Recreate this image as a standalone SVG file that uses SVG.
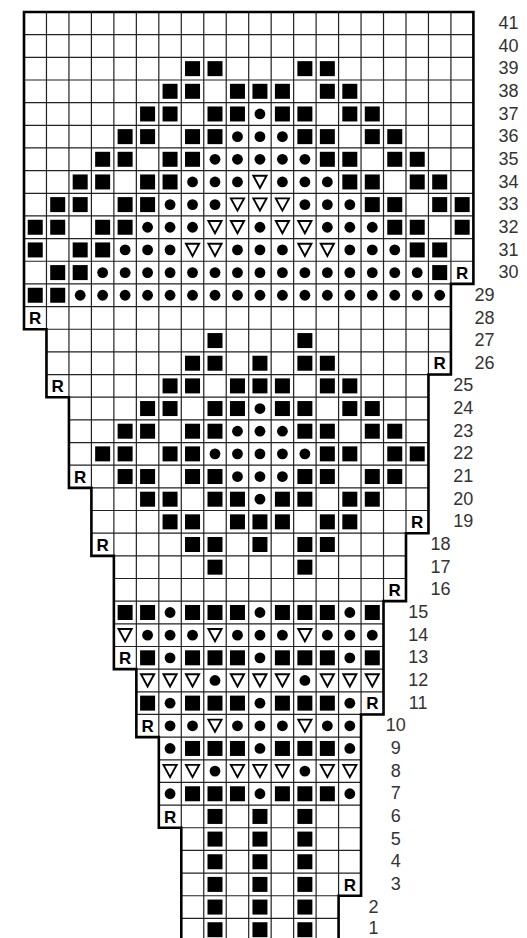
<svg xmlns="http://www.w3.org/2000/svg" xmlns:xlink="http://www.w3.org/1999/xlink" width="527" height="938" viewBox="0 0 527 938">
<style>
.grid{stroke:#222;stroke-width:1.2;fill:none}
.outline{stroke:#000;stroke-width:2.6;fill:none;stroke-linejoin:miter;stroke-linecap:square}
.lbl{font-family:"Liberation Sans",Arial,sans-serif;font-size:18px;fill:#333;text-anchor:middle}
.rr{font-family:"Liberation Sans",Arial,sans-serif;font-size:17px;font-weight:bold;fill:#000;text-anchor:middle}
</style>
<defs>
<rect id="s" x="-7.5" y="-7.5" width="15" height="15" fill="#000"/>
<circle id="d" r="5.4" fill="#000"/>
<path id="t" d="M-6.6,-6.2 H6.6 L0,6 Z" fill="#fff" stroke="#000" stroke-width="1.9" stroke-linejoin="miter"/>
<text id="R" class="rr" y="6.2">R</text>
</defs>
<rect x="0" y="0" width="527" height="938" fill="#fff"/>
<g id="grid" class="grid">
<path d="M46.47,12V397.22M68.94,12V487.86M91.41,12V555.84M113.88,12V669.14M136.35,12V737.12M158.82,12V827.76M181.29,12V945M203.76,12V945M226.23,12V945M248.7,12V945M271.17,12V945M293.64,12V945M316.11,12V945M338.58,12V945M361.05,12V895.74M383.52,12V714.46M405.99,12V601.16M428.46,12V533.18M450.93,12V374.56"/>
<path d="M24,34.66H473.4M24,57.32H473.4M24,79.98H473.4M24,102.64H473.4M24,125.3H473.4M24,147.96H473.4M24,170.62H473.4M24,193.28H473.4M24,215.94H473.4M24,238.6H473.4M24,261.26H473.4M24,283.92H473.4M24,306.58H450.93M24,329.24H450.93M46.47,351.9H450.93M46.47,374.56H450.93M46.47,397.22H428.46M68.94,419.88H428.46M68.94,442.54H428.46M68.94,465.2H428.46M68.94,487.86H428.46M91.41,510.52H428.46M91.41,533.18H428.46M91.41,555.84H405.99M113.88,578.5H405.99M113.88,601.16H405.99M113.88,623.82H383.52M113.88,646.48H383.52M113.88,669.14H383.52M136.35,691.8H383.52M136.35,714.46H383.52M136.35,737.12H361.05M158.82,759.78H361.05M158.82,782.44H361.05M158.82,805.1H361.05M158.82,827.76H361.05M181.29,850.42H361.05M181.29,873.08H361.05M181.29,895.74H361.05M181.29,918.4H338.58"/>
</g>
<g id="connectors">
<path class="outline" d="M181.29,945V827.76H158.82V737.12H136.35V669.14H113.88V555.84H91.41V487.86H68.94V397.22H46.47V329.24H24V12H473.4V283.92H450.93V374.56H428.46V533.18H405.99V601.16H383.52V714.46H361.05V895.74H338.58V945"/>
</g>
<g id="row41" transform="translate(0,23.33)"><text class="lbl" x="508.6" y="5.6">41</text></g>
<g id="row40" transform="translate(0,45.99)"><text class="lbl" x="508.6" y="5.6">40</text></g>
<g id="row39" transform="translate(0,68.65)"><use href="#s" x="192.53"/><use href="#s" x="215"/><use href="#s" x="304.88"/><use href="#s" x="327.35"/><text class="lbl" x="508.6" y="5.6">39</text></g>
<g id="row38" transform="translate(0,91.31)"><use href="#s" x="170.06"/><use href="#s" x="192.53"/><use href="#s" x="237.47"/><use href="#s" x="259.94"/><use href="#s" x="282.41"/><use href="#s" x="327.35"/><use href="#s" x="349.82"/><text class="lbl" x="508.6" y="5.6">38</text></g>
<g id="row37" transform="translate(0,113.97)"><use href="#s" x="147.59"/><use href="#s" x="170.06"/><use href="#s" x="215"/><use href="#s" x="237.47"/><use href="#d" x="259.94"/><use href="#s" x="282.41"/><use href="#s" x="304.88"/><use href="#s" x="349.82"/><use href="#s" x="372.29"/><text class="lbl" x="508.6" y="5.6">37</text></g>
<g id="row36" transform="translate(0,136.63)"><use href="#s" x="125.12"/><use href="#s" x="147.59"/><use href="#s" x="192.53"/><use href="#s" x="215"/><use href="#d" x="237.47"/><use href="#d" x="259.94"/><use href="#d" x="282.41"/><use href="#s" x="304.88"/><use href="#s" x="327.35"/><use href="#s" x="372.29"/><use href="#s" x="394.76"/><text class="lbl" x="508.6" y="5.6">36</text></g>
<g id="row35" transform="translate(0,159.29)"><use href="#s" x="102.65"/><use href="#s" x="125.12"/><use href="#s" x="170.06"/><use href="#s" x="192.53"/><use href="#d" x="215"/><use href="#d" x="237.47"/><use href="#d" x="259.94"/><use href="#d" x="282.41"/><use href="#d" x="304.88"/><use href="#s" x="327.35"/><use href="#s" x="349.82"/><use href="#s" x="394.76"/><use href="#s" x="417.23"/><text class="lbl" x="508.6" y="5.6">35</text></g>
<g id="row34" transform="translate(0,181.95)"><use href="#s" x="80.18"/><use href="#s" x="102.65"/><use href="#s" x="147.59"/><use href="#s" x="170.06"/><use href="#d" x="192.53"/><use href="#d" x="215"/><use href="#d" x="237.47"/><use href="#t" x="259.94"/><use href="#d" x="282.41"/><use href="#d" x="304.88"/><use href="#d" x="327.35"/><use href="#s" x="349.82"/><use href="#s" x="372.29"/><use href="#s" x="417.23"/><use href="#s" x="439.7"/><text class="lbl" x="508.6" y="5.6">34</text></g>
<g id="row33" transform="translate(0,204.61)"><use href="#s" x="57.71"/><use href="#s" x="80.18"/><use href="#s" x="125.12"/><use href="#s" x="147.59"/><use href="#d" x="170.06"/><use href="#d" x="192.53"/><use href="#d" x="215"/><use href="#t" x="237.47"/><use href="#t" x="259.94"/><use href="#t" x="282.41"/><use href="#d" x="304.88"/><use href="#d" x="327.35"/><use href="#d" x="349.82"/><use href="#s" x="372.29"/><use href="#s" x="394.76"/><use href="#s" x="439.7"/><use href="#s" x="462.17"/><text class="lbl" x="508.6" y="5.6">33</text></g>
<g id="row32" transform="translate(0,227.27)"><use href="#s" x="35.24"/><use href="#s" x="57.71"/><use href="#s" x="102.65"/><use href="#s" x="125.12"/><use href="#d" x="147.59"/><use href="#d" x="170.06"/><use href="#d" x="192.53"/><use href="#t" x="215"/><use href="#t" x="237.47"/><use href="#d" x="259.94"/><use href="#t" x="282.41"/><use href="#t" x="304.88"/><use href="#d" x="327.35"/><use href="#d" x="349.82"/><use href="#d" x="372.29"/><use href="#s" x="394.76"/><use href="#s" x="417.23"/><use href="#s" x="462.17"/><text class="lbl" x="508.6" y="5.6">32</text></g>
<g id="row31" transform="translate(0,249.93)"><use href="#s" x="35.24"/><use href="#s" x="80.18"/><use href="#s" x="102.65"/><use href="#d" x="125.12"/><use href="#d" x="147.59"/><use href="#d" x="170.06"/><use href="#t" x="192.53"/><use href="#t" x="215"/><use href="#d" x="237.47"/><use href="#d" x="259.94"/><use href="#d" x="282.41"/><use href="#t" x="304.88"/><use href="#t" x="327.35"/><use href="#d" x="349.82"/><use href="#d" x="372.29"/><use href="#d" x="394.76"/><use href="#s" x="417.23"/><use href="#s" x="439.7"/><text class="lbl" x="508.6" y="5.6">31</text></g>
<g id="row30" transform="translate(0,272.59)"><use href="#s" x="57.71"/><use href="#s" x="80.18"/><use href="#d" x="102.65"/><use href="#d" x="125.12"/><use href="#d" x="147.59"/><use href="#d" x="170.06"/><use href="#d" x="192.53"/><use href="#d" x="215"/><use href="#d" x="237.47"/><use href="#d" x="259.94"/><use href="#d" x="282.41"/><use href="#d" x="304.88"/><use href="#d" x="327.35"/><use href="#d" x="349.82"/><use href="#d" x="372.29"/><use href="#d" x="394.76"/><use href="#d" x="417.23"/><use href="#s" x="439.7"/><use href="#R" x="462.17"/><text class="lbl" x="508.6" y="5.6">30</text></g>
<g id="row29" transform="translate(0,295.25)"><use href="#s" x="35.24"/><use href="#s" x="57.71"/><use href="#d" x="80.18"/><use href="#d" x="102.65"/><use href="#d" x="125.12"/><use href="#d" x="147.59"/><use href="#d" x="170.06"/><use href="#d" x="192.53"/><use href="#d" x="215"/><use href="#d" x="237.47"/><use href="#d" x="259.94"/><use href="#d" x="282.41"/><use href="#d" x="304.88"/><use href="#d" x="327.35"/><use href="#d" x="349.82"/><use href="#d" x="372.29"/><use href="#d" x="394.76"/><use href="#d" x="417.23"/><use href="#d" x="439.7"/><text class="lbl" x="484.6" y="5.6">29</text></g>
<g id="row28" transform="translate(0,317.91)"><use href="#R" x="35.24"/><text class="lbl" x="484.6" y="5.6">28</text></g>
<g id="row27" transform="translate(0,340.57)"><use href="#s" x="215"/><use href="#s" x="304.88"/><text class="lbl" x="484.6" y="5.6">27</text></g>
<g id="row26" transform="translate(0,363.23)"><use href="#s" x="192.53"/><use href="#s" x="215"/><use href="#s" x="259.94"/><use href="#s" x="304.88"/><use href="#s" x="327.35"/><use href="#R" x="439.7"/><text class="lbl" x="484.6" y="5.6">26</text></g>
<g id="row25" transform="translate(0,385.89)"><use href="#R" x="57.71"/><use href="#s" x="170.06"/><use href="#s" x="192.53"/><use href="#s" x="237.47"/><use href="#s" x="259.94"/><use href="#s" x="282.41"/><use href="#s" x="327.35"/><use href="#s" x="349.82"/><text class="lbl" x="463.2" y="5.6">25</text></g>
<g id="row24" transform="translate(0,408.55)"><use href="#s" x="147.59"/><use href="#s" x="170.06"/><use href="#s" x="215"/><use href="#s" x="237.47"/><use href="#d" x="259.94"/><use href="#s" x="282.41"/><use href="#s" x="304.88"/><use href="#s" x="349.82"/><use href="#s" x="372.29"/><text class="lbl" x="463.2" y="5.6">24</text></g>
<g id="row23" transform="translate(0,431.21)"><use href="#s" x="125.12"/><use href="#s" x="147.59"/><use href="#s" x="192.53"/><use href="#s" x="215"/><use href="#d" x="237.47"/><use href="#d" x="259.94"/><use href="#d" x="282.41"/><use href="#s" x="304.88"/><use href="#s" x="327.35"/><use href="#s" x="372.29"/><use href="#s" x="394.76"/><text class="lbl" x="463.2" y="5.6">23</text></g>
<g id="row22" transform="translate(0,453.87)"><use href="#s" x="102.65"/><use href="#s" x="125.12"/><use href="#s" x="170.06"/><use href="#s" x="192.53"/><use href="#d" x="215"/><use href="#d" x="237.47"/><use href="#d" x="259.94"/><use href="#d" x="282.41"/><use href="#d" x="304.88"/><use href="#s" x="327.35"/><use href="#s" x="349.82"/><use href="#s" x="394.76"/><use href="#s" x="417.23"/><text class="lbl" x="463.2" y="5.6">22</text></g>
<g id="row21" transform="translate(0,476.53)"><use href="#R" x="80.18"/><use href="#s" x="125.12"/><use href="#s" x="147.59"/><use href="#s" x="192.53"/><use href="#s" x="215"/><use href="#d" x="237.47"/><use href="#d" x="259.94"/><use href="#d" x="282.41"/><use href="#s" x="304.88"/><use href="#s" x="327.35"/><use href="#s" x="372.29"/><use href="#s" x="394.76"/><text class="lbl" x="463.2" y="5.6">21</text></g>
<g id="row20" transform="translate(0,499.19)"><use href="#s" x="147.59"/><use href="#s" x="170.06"/><use href="#s" x="215"/><use href="#s" x="237.47"/><use href="#d" x="259.94"/><use href="#s" x="282.41"/><use href="#s" x="304.88"/><use href="#s" x="349.82"/><use href="#s" x="372.29"/><text class="lbl" x="463.2" y="5.6">20</text></g>
<g id="row19" transform="translate(0,521.85)"><use href="#s" x="170.06"/><use href="#s" x="192.53"/><use href="#s" x="237.47"/><use href="#s" x="259.94"/><use href="#s" x="282.41"/><use href="#s" x="327.35"/><use href="#s" x="349.82"/><use href="#R" x="417.23"/><text class="lbl" x="463.2" y="5.6">19</text></g>
<g id="row18" transform="translate(0,544.51)"><use href="#R" x="102.65"/><use href="#s" x="192.53"/><use href="#s" x="215"/><use href="#s" x="259.94"/><use href="#s" x="304.88"/><use href="#s" x="327.35"/><text class="lbl" x="440.5" y="5.6">18</text></g>
<g id="row17" transform="translate(0,567.17)"><use href="#s" x="215"/><use href="#s" x="304.88"/><text class="lbl" x="440.5" y="5.6">17</text></g>
<g id="row16" transform="translate(0,589.83)"><use href="#R" x="394.76"/><text class="lbl" x="440.5" y="5.6">16</text></g>
<g id="row15" transform="translate(0,612.49)"><use href="#s" x="125.12"/><use href="#s" x="147.59"/><use href="#d" x="170.06"/><use href="#s" x="192.53"/><use href="#s" x="215"/><use href="#s" x="237.47"/><use href="#d" x="259.94"/><use href="#s" x="282.41"/><use href="#s" x="304.88"/><use href="#s" x="327.35"/><use href="#d" x="349.82"/><use href="#s" x="372.29"/><text class="lbl" x="418.2" y="5.6">15</text></g>
<g id="row14" transform="translate(0,635.15)"><use href="#t" x="125.12"/><use href="#d" x="147.59"/><use href="#d" x="170.06"/><use href="#d" x="192.53"/><use href="#t" x="215"/><use href="#d" x="237.47"/><use href="#d" x="259.94"/><use href="#d" x="282.41"/><use href="#t" x="304.88"/><use href="#d" x="327.35"/><use href="#d" x="349.82"/><use href="#d" x="372.29"/><text class="lbl" x="418.2" y="5.6">14</text></g>
<g id="row13" transform="translate(0,657.81)"><use href="#R" x="125.12"/><use href="#s" x="147.59"/><use href="#d" x="170.06"/><use href="#s" x="192.53"/><use href="#s" x="215"/><use href="#s" x="237.47"/><use href="#d" x="259.94"/><use href="#s" x="282.41"/><use href="#s" x="304.88"/><use href="#s" x="327.35"/><use href="#d" x="349.82"/><use href="#s" x="372.29"/><text class="lbl" x="418.2" y="5.6">13</text></g>
<g id="row12" transform="translate(0,680.47)"><use href="#t" x="147.59"/><use href="#t" x="170.06"/><use href="#t" x="192.53"/><use href="#d" x="215"/><use href="#t" x="237.47"/><use href="#t" x="259.94"/><use href="#t" x="282.41"/><use href="#d" x="304.88"/><use href="#t" x="327.35"/><use href="#t" x="349.82"/><use href="#t" x="372.29"/><text class="lbl" x="418.2" y="5.6">12</text></g>
<g id="row11" transform="translate(0,703.13)"><use href="#s" x="147.59"/><use href="#d" x="170.06"/><use href="#s" x="192.53"/><use href="#s" x="215"/><use href="#s" x="237.47"/><use href="#d" x="259.94"/><use href="#s" x="282.41"/><use href="#s" x="304.88"/><use href="#s" x="327.35"/><use href="#d" x="349.82"/><use href="#R" x="372.29"/><text class="lbl" x="418.2" y="5.6">11</text></g>
<g id="row10" transform="translate(0,725.79)"><use href="#R" x="147.59"/><use href="#d" x="170.06"/><use href="#d" x="192.53"/><use href="#t" x="215"/><use href="#d" x="237.47"/><use href="#d" x="259.94"/><use href="#d" x="282.41"/><use href="#t" x="304.88"/><use href="#d" x="327.35"/><use href="#d" x="349.82"/><text class="lbl" x="395.8" y="5.6">10</text></g>
<g id="row9" transform="translate(0,748.45)"><use href="#d" x="170.06"/><use href="#s" x="192.53"/><use href="#s" x="215"/><use href="#s" x="237.47"/><use href="#d" x="259.94"/><use href="#s" x="282.41"/><use href="#s" x="304.88"/><use href="#s" x="327.35"/><use href="#d" x="349.82"/><text class="lbl" x="395.8" y="5.6">9</text></g>
<g id="row8" transform="translate(0,771.11)"><use href="#t" x="170.06"/><use href="#t" x="192.53"/><use href="#d" x="215"/><use href="#t" x="237.47"/><use href="#t" x="259.94"/><use href="#t" x="282.41"/><use href="#d" x="304.88"/><use href="#t" x="327.35"/><use href="#t" x="349.82"/><text class="lbl" x="395.8" y="5.6">8</text></g>
<g id="row7" transform="translate(0,793.77)"><use href="#d" x="170.06"/><use href="#s" x="192.53"/><use href="#s" x="215"/><use href="#s" x="237.47"/><use href="#d" x="259.94"/><use href="#s" x="282.41"/><use href="#s" x="304.88"/><use href="#s" x="327.35"/><use href="#d" x="349.82"/><text class="lbl" x="395.8" y="5.6">7</text></g>
<g id="row6" transform="translate(0,816.43)"><use href="#R" x="170.06"/><use href="#s" x="215"/><use href="#s" x="259.94"/><use href="#s" x="304.88"/><text class="lbl" x="395.8" y="5.6">6</text></g>
<g id="row5" transform="translate(0,839.09)"><use href="#s" x="215"/><use href="#s" x="259.94"/><use href="#s" x="304.88"/><text class="lbl" x="395.8" y="5.6">5</text></g>
<g id="row4" transform="translate(0,861.75)"><use href="#s" x="215"/><use href="#s" x="259.94"/><use href="#s" x="304.88"/><text class="lbl" x="395.8" y="5.6">4</text></g>
<g id="row3" transform="translate(0,884.41)"><use href="#s" x="215"/><use href="#s" x="259.94"/><use href="#s" x="304.88"/><use href="#R" x="349.82"/><text class="lbl" x="395.8" y="5.6">3</text></g>
<g id="row2" transform="translate(0,907.07)"><use href="#s" x="215"/><use href="#s" x="259.94"/><use href="#s" x="304.88"/><text class="lbl" x="373.4" y="5.6">2</text></g>
<g id="row1" transform="translate(0,929.73)"><use href="#s" x="215"/><use href="#s" x="259.94"/><use href="#s" x="304.88"/><text class="lbl" x="373.4" y="4.2">1</text></g>
</svg>
